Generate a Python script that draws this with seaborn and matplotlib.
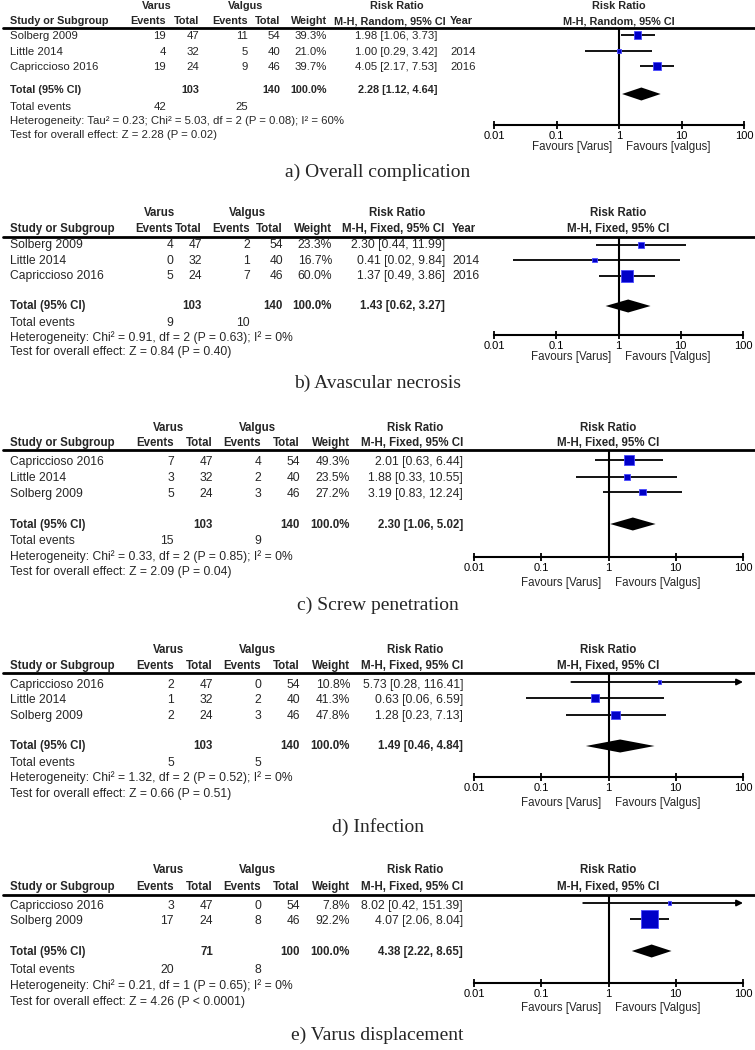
import numpy as np
import pandas as pd
import matplotlib
matplotlib.use("Agg")
import matplotlib.pyplot as plt
from matplotlib.lines import Line2D
from matplotlib.ticker import NullLocator
import seaborn as sns

sns.set_style("white")
plt.rcParams['font.family'] = ['Liberation Sans', 'DejaVu Sans']

# ---------------- data ----------------
TICKS = [0.01, 0.1, 1, 10, 100]
TICK_LABELS = ["0.01", "0.1", "1", "10", "100"]
TOTAL_WEIGHT = "100.0%"

A_STUDY = ["Solberg 2009", "Little 2014", "Capriccioso 2016"]
A_YEAR = ["", "2014", "2016"]
A_VARUS_EV = [19, 4, 19]
A_VARUS_N = [47, 32, 24]
A_VALGUS_EV = [11, 5, 9]
A_VALGUS_N = [54, 40, 46]
A_WEIGHT = [39.3, 21.0, 39.7]
A_RR = [1.98, 1.00, 4.05]
A_LO = [1.06, 0.29, 2.17]
A_HI = [3.73, 3.42, 7.53]
A_TOT = [2.28, 1.12, 4.64]
A_N_TOT = [103, 140]
A_EV_TOT = [42, 25]
A_HET = "Heterogeneity: Tau² = 0.23; Chi² = 5.03, df = 2 (P = 0.08); I² = 60%"
A_TEST = "Test for overall effect: Z = 2.28 (P = 0.02)"

B_STUDY = ["Solberg 2009", "Little 2014", "Capriccioso 2016"]
B_YEAR = ["", "2014", "2016"]
B_VARUS_EV = [4, 0, 5]
B_VARUS_N = [47, 32, 24]
B_VALGUS_EV = [2, 1, 7]
B_VALGUS_N = [54, 40, 46]
B_WEIGHT = [23.3, 16.7, 60.0]
B_RR = [2.30, 0.41, 1.37]
B_LO = [0.44, 0.02, 0.49]
B_HI = [11.99, 9.84, 3.86]
B_TOT = [1.43, 0.62, 3.27]
B_N_TOT = [103, 140]
B_EV_TOT = [9, 10]
B_HET = "Heterogeneity: Chi² = 0.91, df = 2 (P = 0.63); I² = 0%"
B_TEST = "Test for overall effect: Z = 0.84 (P = 0.40)"

C_STUDY = ["Capriccioso 2016", "Little 2014", "Solberg 2009"]
C_VARUS_EV = [7, 3, 5]
C_VARUS_N = [47, 32, 24]
C_VALGUS_EV = [4, 2, 3]
C_VALGUS_N = [54, 40, 46]
C_WEIGHT = [49.3, 23.5, 27.2]
C_RR = [2.01, 1.88, 3.19]
C_LO = [0.63, 0.33, 0.83]
C_HI = [6.44, 10.55, 12.24]
C_TOT = [2.30, 1.06, 5.02]
C_N_TOT = [103, 140]
C_EV_TOT = [15, 9]
C_HET = "Heterogeneity: Chi² = 0.33, df = 2 (P = 0.85); I² = 0%"
C_TEST = "Test for overall effect: Z = 2.09 (P = 0.04)"

D_STUDY = ["Capriccioso 2016", "Little 2014", "Solberg 2009"]
D_VARUS_EV = [2, 1, 2]
D_VARUS_N = [47, 32, 24]
D_VALGUS_EV = [0, 2, 3]
D_VALGUS_N = [54, 40, 46]
D_WEIGHT = [10.8, 41.3, 47.8]
D_RR = [5.73, 0.63, 1.28]
D_LO = [0.28, 0.06, 0.23]
D_HI = [116.41, 6.59, 7.13]
D_TOT = [1.49, 0.46, 4.84]
D_N_TOT = [103, 140]
D_EV_TOT = [5, 5]
D_HET = "Heterogeneity: Chi² = 1.32, df = 2 (P = 0.52); I² = 0%"
D_TEST = "Test for overall effect: Z = 0.66 (P = 0.51)"

E_STUDY = ["Capriccioso 2016", "Solberg 2009"]
E_VARUS_EV = [3, 17]
E_VARUS_N = [47, 24]
E_VALGUS_EV = [0, 8]
E_VALGUS_N = [54, 46]
E_WEIGHT = [7.8, 92.2]
E_RR = [8.02, 4.07]
E_LO = [0.42, 2.06]
E_HI = [151.39, 8.04]
E_TOT = [4.38, 2.22, 8.65]
E_N_TOT = [71, 100]
E_EV_TOT = [20, 8]
E_HET = "Heterogeneity: Chi² = 0.21, df = 1 (P = 0.65); I² = 0%"
E_TEST = "Test for overall effect: Z = 4.26 (P < 0.0001)"

CAPTIONS = ["a) Overall complication", "b) Avascular necrosis", "c) Screw penetration",
            "d) Infection", "e) Varus displacement"]
METHODS = ["M-H, Random, 95% CI", "M-H, Fixed, 95% CI", "M-H, Fixed, 95% CI",
           "M-H, Fixed, 95% CI", "M-H, Fixed, 95% CI"]
VALGUS_FAV = ["Favours [valgus]", "Favours [Valgus]", "Favours [Valgus]",
              "Favours [Valgus]", "Favours [Valgus]"]

# ---------------- layout (pixel positions) ----------------
W, H = 755, 1050
BLUE = "#0000C8"

COLS_AB = dict(study=10, ev1=166, n1=199, ev2=248, n2=280, w=327, ci=437, ci_hdr=390,
               rr_hdr=397, year=450, varus=157, valgus=246)
COLS_B = dict(study=10, ev1=173, n1=202, ev2=250, n2=283, w=332, ci=445, ci_hdr=393,
              rr_hdr=397, year=452, varus=160, valgus=247)
COLS_CDE = dict(study=10, ev1=174, n1=213, ev2=261, n2=300, w=350, ci=463, ci_hdr=412,
                rr_hdr=415, year=None, varus=169, valgus=257)

LAYOUT = [
    dict(h1=6, h2=21, line=28, rows=[36, 52, 67], frows=[35, 51, 66], total=90, diamond=94,
         totev=107, het=121, test=135, axis=125, fav=147, caption=172,
         fx0=494, fx1=744, cols=COLS_AB, fr=8.2, fb=7.8, box=0.59),
    dict(h1=213, h2=229, line=237, rows=[245, 261, 276], frows=[245, 260, 276], total=306,
         diamond=306, totev=323, het=338, test=352, axis=335, fav=357, caption=383,
         fx0=494, fx1=743, cols=COLS_B, fr=8.7, fb=8.3, box=0.63),
    dict(h1=428, h2=443, line=450, rows=[462, 478, 494], frows=[460, 477, 492], total=525,
         diamond=524, totev=541, het=557, test=572, axis=557, fav=583, caption=605,
         fx0=474, fx1=743, cols=COLS_CDE, fr=8.7, fb=8.3, box=0.65),
    dict(h1=650, h2=666, line=673, rows=[685, 700, 716], frows=[682, 698, 715], total=746,
         diamond=746, totev=763, het=778, test=794, axis=777, fav=803, caption=827,
         fx0=474, fx1=743, cols=COLS_CDE, fr=8.7, fb=8.3, box=0.60),
    dict(h1=870, h2=887, line=895, rows=[906, 921], frows=[903, 919], total=952,
         diamond=951, totev=970, het=986, test=1002, axis=983, fav=1008, caption=1035,
         fx0=474, fx1=743, cols=COLS_CDE, fr=8.7, fb=8.3, box=0.75),
]

PANELS = [
    dict(study=A_STUDY, year=A_YEAR, e1=A_VARUS_EV, n1=A_VARUS_N, e2=A_VALGUS_EV, n2=A_VALGUS_N,
         w=A_WEIGHT, rr=A_RR, lo=A_LO, hi=A_HI, tot=A_TOT, ntot=A_N_TOT, evtot=A_EV_TOT,
         het=A_HET, test=A_TEST),
    dict(study=B_STUDY, year=B_YEAR, e1=B_VARUS_EV, n1=B_VARUS_N, e2=B_VALGUS_EV, n2=B_VALGUS_N,
         w=B_WEIGHT, rr=B_RR, lo=B_LO, hi=B_HI, tot=B_TOT, ntot=B_N_TOT, evtot=B_EV_TOT,
         het=B_HET, test=B_TEST),
    dict(study=C_STUDY, year=None, e1=C_VARUS_EV, n1=C_VARUS_N, e2=C_VALGUS_EV, n2=C_VALGUS_N,
         w=C_WEIGHT, rr=C_RR, lo=C_LO, hi=C_HI, tot=C_TOT, ntot=C_N_TOT, evtot=C_EV_TOT,
         het=C_HET, test=C_TEST),
    dict(study=D_STUDY, year=None, e1=D_VARUS_EV, n1=D_VARUS_N, e2=D_VALGUS_EV, n2=D_VALGUS_N,
         w=D_WEIGHT, rr=D_RR, lo=D_LO, hi=D_HI, tot=D_TOT, ntot=D_N_TOT, evtot=D_EV_TOT,
         het=D_HET, test=D_TEST),
    dict(study=E_STUDY, year=None, e1=E_VARUS_EV, n1=E_VARUS_N, e2=E_VALGUS_EV, n2=E_VALGUS_N,
         w=E_WEIGHT, rr=E_RR, lo=E_LO, hi=E_HI, tot=E_TOT, ntot=E_N_TOT, evtot=E_EV_TOT,
         het=E_HET, test=E_TEST),
]

fig = plt.figure(figsize=(W / 100, H / 100), dpi=100)
fig.patch.set_facecolor("white")


def ftext(x, y, s, ha="left", bold=False, size=8.5, family=None):
    kw = {}
    if family:
        kw["family"] = family
    fig.text(x / W, 1 - y / H, s, ha=ha, va="center", fontsize=size,
             fontweight="bold" if bold else "normal", **kw)


def fmt_ci(v):
    return f"{v[0]:.2f} [{v[1]:.2f}, {v[2]:.2f}]"


for i, (P, L) in enumerate(zip(PANELS, LAYOUT)):
    C = L["cols"]
    fr, fb = L["fr"], L["fb"]
    # headers
    ftext(C["varus"], L["h1"], "Varus", "center", True, fb)
    ftext(C["valgus"], L["h1"], "Valgus", "center", True, fb)
    ftext(C["rr_hdr"], L["h1"], "Risk Ratio", "center", True, fb)
    ftext(C["study"], L["h2"], "Study or Subgroup", "left", True, fb)
    ftext(C["ev1"], L["h2"], "Events", "right", True, fb)
    ftext(C["n1"], L["h2"], "Total", "right", True, fb)
    ftext(C["ev2"], L["h2"], "Events", "right", True, fb)
    ftext(C["n2"], L["h2"], "Total", "right", True, fb)
    ftext(C["w"], L["h2"], "Weight", "right", True, fb)
    ftext(C["ci_hdr"], L["h2"], METHODS[i], "center", True, fb)
    if C["year"] is not None:
        ftext(C["year"], L["h2"], "Year", "left", True, fb)
    fig.add_artist(Line2D([3 / W, 1.0], [1 - L["line"] / H] * 2, color="black", lw=2))

    # study rows
    for j, y in enumerate(L["rows"]):
        ftext(C["study"], y, P["study"][j], "left", False, fr)
        ftext(C["ev1"], y, str(P["e1"][j]), "right", False, fr)
        ftext(C["n1"], y, str(P["n1"][j]), "right", False, fr)
        ftext(C["ev2"], y, str(P["e2"][j]), "right", False, fr)
        ftext(C["n2"], y, str(P["n2"][j]), "right", False, fr)
        ftext(C["w"], y, f"{P['w'][j]:.1f}%", "right", False, fr)
        ftext(C["ci"], y, fmt_ci([P["rr"][j], P["lo"][j], P["hi"][j]]), "right", False, fr)
        if P["year"] is not None and P["year"][j]:
            ftext(C["year"], y, P["year"][j], "left", False, fr)

    # totals
    ftext(C["study"], L["total"], "Total (95% CI)", "left", True, fb)
    ftext(C["n1"], L["total"], str(P["ntot"][0]), "right", True, fb)
    ftext(C["n2"], L["total"], str(P["ntot"][1]), "right", True, fb)
    ftext(C["w"], L["total"], TOTAL_WEIGHT, "right", True, fb)
    ftext(C["ci"], L["total"], fmt_ci(P["tot"]), "right", True, fb)
    ftext(C["study"], L["totev"], "Total events", "left", False, fr)
    ftext(C["ev1"], L["totev"], str(P["evtot"][0]), "right", False, fr)
    ftext(C["ev2"], L["totev"], str(P["evtot"][1]), "right", False, fr)
    ftext(C["study"], L["het"], P["het"], "left", False, fr)
    ftext(C["study"], L["test"], P["test"], "left", False, fr)

    # caption
    ftext(W / 2, L["caption"], CAPTIONS[i], "center", False, 14, family="Liberation Serif")

    # forest plot
    ax = fig.add_axes([L["fx0"] / W, 1 - L["axis"] / H, (L["fx1"] - L["fx0"]) / W,
                       (L["axis"] - L["line"]) / H])
    ax.patch.set_alpha(0)
    ax.set_xscale("log")
    ys = L["frows"]
    for y, lo, hi in zip(ys, P["lo"], P["hi"]):
        if hi > TICKS[-1]:
            ax.annotate("", xy=(TICKS[-1], y), xytext=(lo, y), xycoords="data",
                        arrowprops=dict(arrowstyle="-|>", color="black", lw=1.3,
                                        mutation_scale=9, shrinkA=0, shrinkB=0),
                        annotation_clip=False)
        else:
            ax.plot([lo, hi], [y, y], color="black", lw=1.3, solid_capstyle="butt", zorder=2)
    sides_pt = [L["box"] * (w ** 0.7) * 0.72 for w in P["w"]]
    sns.scatterplot(x=P["rr"], y=ys, marker="s", s=[s * s for s in sides_pt], color=BLUE,
                    edgecolor="#4a4aff", linewidth=0.6, ax=ax, legend=False, zorder=3)
    est, lo, hi = P["tot"]
    yd, hd = L["diamond"], 13
    ax.fill([lo, est, hi, est], [yd, yd - hd / 2, yd, yd + hd / 2], color="black", zorder=3,
            lw=0)
    ax.axvline(1, color="black", lw=1.5, zorder=1)
    ax.set_xlim(TICKS[0], TICKS[-1])
    ax.set_ylim(L["axis"], L["line"])
    for s in ["top", "left", "right"]:
        ax.spines[s].set_visible(False)
    ax.spines["bottom"].set_linewidth(1.5)
    ax.spines["bottom"].set_color("black")
    ax.set_xticks(TICKS)
    ax.set_xticklabels(TICK_LABELS, fontsize=8.0)
    ax.xaxis.set_minor_locator(NullLocator())
    ax.tick_params(axis="x", direction="inout", length=6, width=1.3, pad=1.2, colors="black",
                   bottom=True)
    ax.set_yticks([])
    ax.set_xlabel("")
    ax.set_ylabel("")
    ax.annotate("Favours [Varus]", xy=(1, L["fav"]), xytext=(-5, 0), textcoords="offset points",
                ha="right", va="center", fontsize=8.3, annotation_clip=False)
    ax.annotate(VALGUS_FAV[i], xy=(1, L["fav"]), xytext=(5, 0), textcoords="offset points",
                ha="left", va="center", fontsize=8.3, annotation_clip=False)
    ax.annotate("Risk Ratio", xy=(1, L["h1"]), ha="center", va="center", fontsize=fb,
                fontweight="bold", annotation_clip=False)
    ax.annotate(METHODS[i], xy=(1, L["h2"]), ha="center", va="center", fontsize=fb,
                fontweight="bold", annotation_clip=False)

fig.savefig("out.png", dpi=100, facecolor="white")
